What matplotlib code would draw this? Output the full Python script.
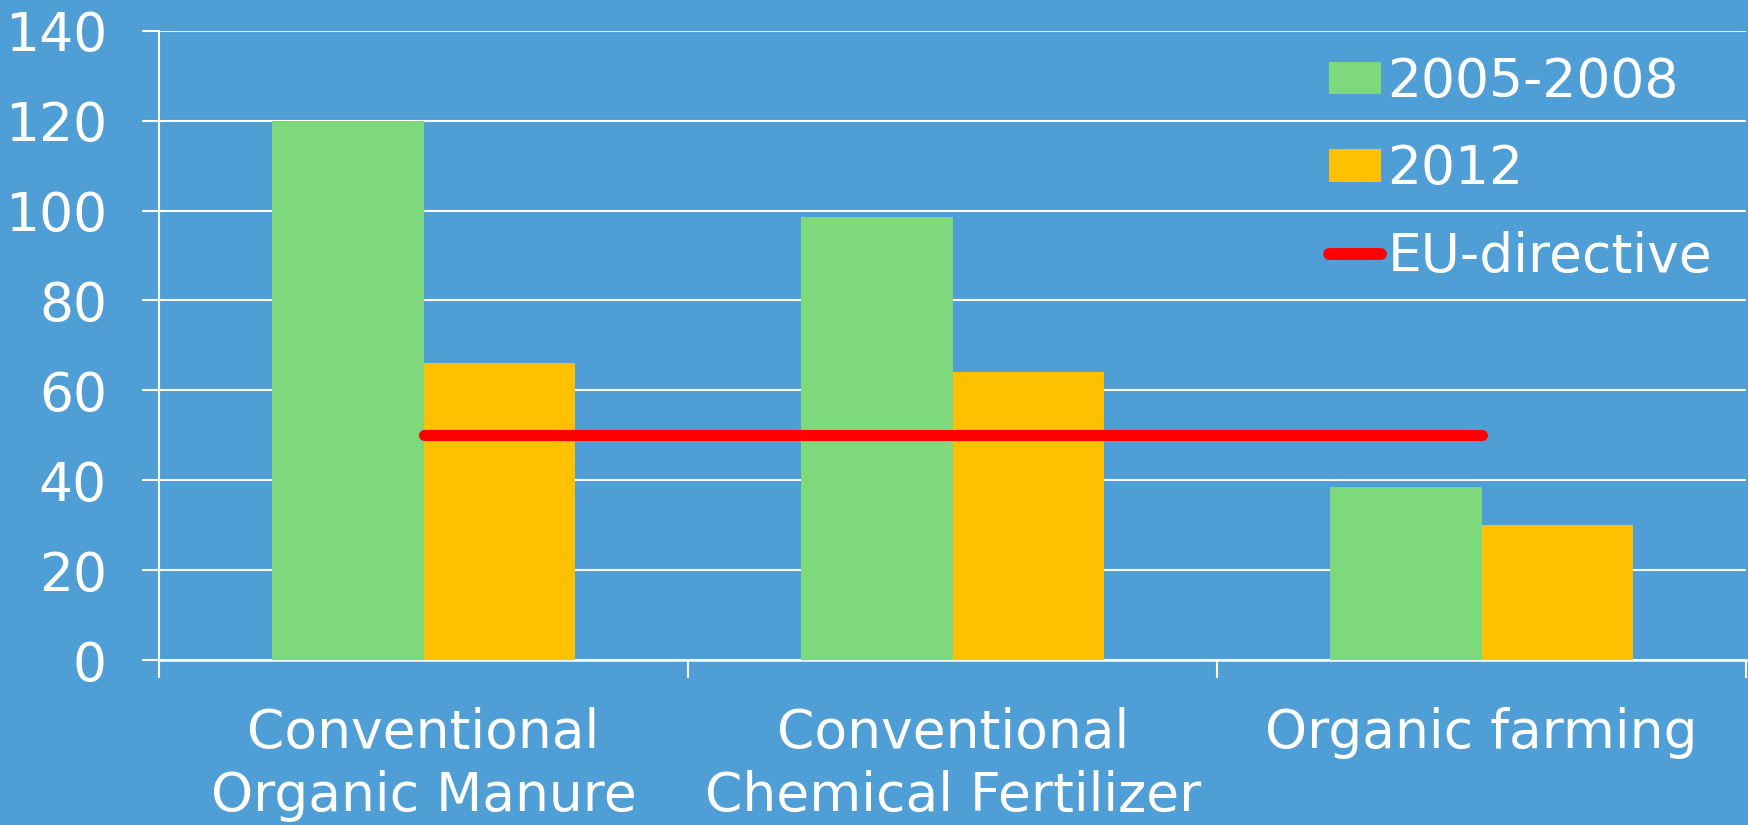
import numpy as np
import matplotlib
matplotlib.use("Agg")
import matplotlib.pyplot as plt
from matplotlib.patches import Patch
from matplotlib.lines import Line2D

# data
categories = ["Conventional\nOrganic Manure", "Conventional\nChemical Fertilizer", "Organic farming"]
vals_2005_2008 = [120, 98.5, 38.5]
vals_2012 = [66, 64, 30]
eu_directive = 50
series_names = ["2005-2008", "2012", "EU-directive"]

bg = "#4F9ED6"
green = "#7ED97D"
orange = "#FFC000"
red = "#FF0000"

plt.rcParams["font.family"] = ["DejaVu Sans"]
fs = 38.5

fig = plt.figure(figsize=(17.48, 8.25), dpi=100, facecolor=bg)
ax = fig.add_axes([159 / 1748, 1 - 660 / 825, 1 - 159 / 1748 - 0.001, (660 - 30.7) / 825])
ax.set_facecolor(bg)

x = np.arange(len(categories))
w = 0.286
ax.bar(x - w / 2, vals_2005_2008, w, color=green, zorder=3)
ax.bar(x + w / 2, vals_2012, w, color=orange, zorder=3)
ax.plot([x[0], x[-1]], [eu_directive, eu_directive], color=red, lw=8,
        solid_capstyle="round", zorder=4)

ax.set_ylim(0, 140)
ax.set_xlim(-0.5, len(categories) - 0.5)
ax.set_yticks(np.arange(0, 141, 20))
ax.yaxis.grid(True, color="white", lw=1.5, zorder=0)
ax.set_axisbelow(True)

ax.set_xticks(x)
ax.set_xticklabels(categories, linespacing=1.29)
ax.set_xticks(np.arange(-0.5, len(categories)), minor=True)
ax.tick_params(axis="x", which="major", length=0, pad=33.5, labelsize=fs, colors="white")
ax.tick_params(axis="x", which="minor", length=13, width=1.5, color="white")
ax.tick_params(axis="y", length=12.5, width=1.5, color="white", labelcolor="white",
               labelsize=fs, pad=25)

for s in ["top", "right"]:
    ax.spines[s].set_visible(False)
ax.spines["left"].set_color("white")
ax.spines["left"].set_linewidth(1.5)
ax.spines["bottom"].set_color("white")
ax.spines["bottom"].set_linewidth(1.8)

handles = [
    Patch(facecolor=green, edgecolor="none"),
    Patch(facecolor=orange, edgecolor="none"),
    Line2D([0], [0], color=red, lw=8.5, solid_capstyle="round"),
]
leg = fig.legend(handles, series_names, loc="upper left",
                 bbox_to_anchor=(1329 / 1748, 1 - 56 / 825), frameon=False,
                 fontsize=fs, handlelength=0.97, handleheight=0.56,
                 handletextpad=0.12, labelspacing=0.66, borderpad=0, borderaxespad=0)
for t in leg.get_texts():
    t.set_color("white")

fig.savefig("out.png", dpi=100, facecolor=bg)
